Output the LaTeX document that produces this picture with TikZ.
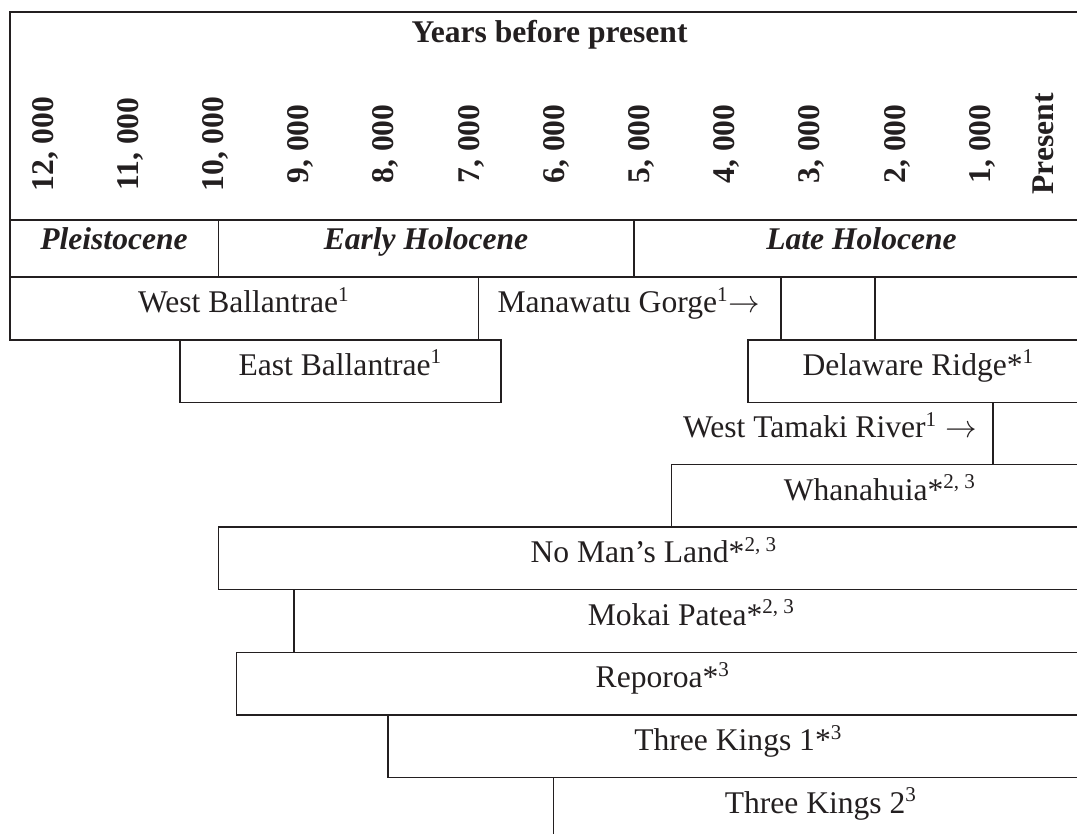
\documentclass[tikz,border=0pt]{standalone}
\usepackage{fontspec}
\setmainfont{Liberation Serif}
\definecolor{ink}{HTML}{231F20}
\tikzset{
  rule/.style={draw=ink,line width=0.6pt,line cap=rect,line join=miter},
  lbl/.style={anchor=base,inner sep=0pt,text=ink,font=\fontsize{12}{14}\selectfont},
  epoch/.style={anchor=base,inner sep=0pt,text=ink,font=\fontsize{12}{14}\selectfont\bfseries\itshape},
  yearlbl/.style={rotate=90,anchor=center,inner sep=0pt,text=ink,font=\fontsize{12}{14}\selectfont\bfseries}
}
\begin{document}
\begin{tikzpicture}[x=0.38pt,y=-0.38pt]
\clip (0,0) rectangle (1077,834);
\def\R{1089}
% header frame
\draw[rule] (10,339.8) -- (10,12) -- (\R,12);
\draw[rule] (10,220) -- (\R,220);
\draw[rule] (10,277) -- (\R,277);
\draw[rule] (218.5,220) -- (218.5,277);
\draw[rule] (634,220) -- (634,277);
% West Ballantrae / Manawatu row
\draw[rule] (478.5,277) -- (478.5,339.8);
\draw[rule] (781,277) -- (781,339.8);
\draw[rule] (875,277) -- (875,339.8);
\draw[rule] (10,339.8) -- (501,339.8);
% East Ballantrae
\draw[rule] (180,339.8) -- (180,402.3) -- (501,402.3) -- (501,339.8);
% Delaware Ridge
\draw[rule] (\R,339.8) -- (748,339.8) -- (748,402.3) -- (\R,402.3);
% West Tamaki River
\draw[rule] (993,402.3) -- (993,464.5);
% Whanahuia
\draw[rule] (\R,464.5) -- (671.5,464.5) -- (671.5,527);
% No Man's Land
\draw[rule] (\R,527) -- (218.5,527) -- (218.5,589.5) -- (\R,589.5);
% Mokai Patea
\draw[rule] (294,589.5) -- (294,652.3);
% Reporoa
\draw[rule] (\R,652.3) -- (236.5,652.3) -- (236.5,715) -- (\R,715);
% Three Kings 1
\draw[rule] (388,715) -- (388,777.7) -- (\R,777.7);
% Three Kings 2
\draw[rule] (553.5,777.7) -- (553.5,840);

% title
\node[lbl,font=\fontsize{12}{14}\selectfont\bfseries] (title) at (549.5,43) {Years before present};
% year labels
\foreach \v [count=\i from 0] in {{12, 000},{11, 000},{10, 000},{9, 000},{8, 000},{7, 000},{6, 000},{5, 000},{4, 000},{3, 000},{2, 000},{1, 000}}
  \node[yearlbl] (yr\i) at ({45+85.2*\i},144) {\v};
\node[yearlbl] (present) at (1043,144) {Present};
% epochs
\node[epoch] (pleist) at (114,250) {Pleistocene};
\node[epoch] (early) at (426,250) {Early Holocene};
\node[epoch] (late) at (861.5,250) {Late Holocene};
% sites
\node[lbl] (wb) at (244,312.5) {West Ballantrae\textsuperscript{1}};
\node[lbl] (mg) at (629,312.5) {Manawatu Gorge\textsuperscript{1}$\rightarrow$};
\node[lbl] (eb) at (340.5,375.3) {East Ballantrae\textsuperscript{1}};
\node[lbl] (dr) at (918.5,375.3) {Delaware Ridge*\textsuperscript{1}};
\node[lbl] (wt) at (830,437.8) {West Tamaki River\textsuperscript{1} $\rightarrow$};
\node[lbl] (wh) at (880,500) {Whanahuia*\textsuperscript{2, 3}};
\node[lbl] (nml) at (654,562.5) {No Man’s Land*\textsuperscript{2, 3}};
\node[lbl] (mp) at (691.5,625) {Mokai Patea*\textsuperscript{2, 3}};
\node[lbl] (rep) at (663,687.8) {Reporoa*\textsuperscript{3}};
\node[lbl] (tk1) at (738.5,750.5) {Three Kings 1*\textsuperscript{3}};
\node[lbl] (tk2) at (821,813.2) {Three Kings 2\textsuperscript{3}};
\end{tikzpicture}
\end{document}
